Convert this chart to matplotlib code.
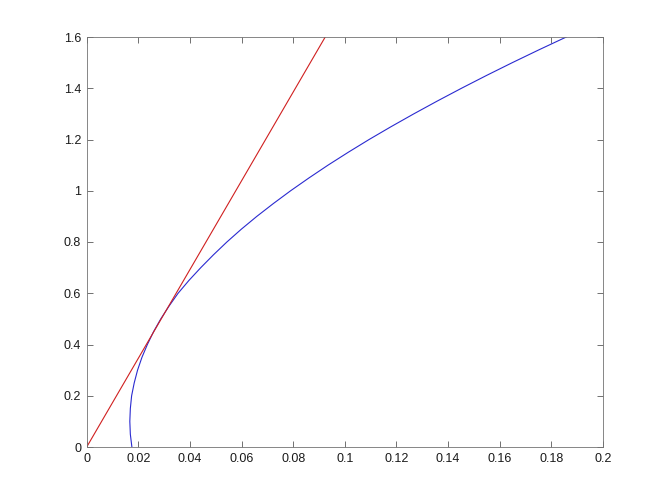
import matplotlib
matplotlib.use('Agg')
import matplotlib.pyplot as plt
from matplotlib.ticker import FormatStrFormatter

# blue curve (x as a function of y)
curve_y = [0.0, 0.05, 0.1, 0.15, 0.2, 0.25, 0.3, 0.35, 0.4, 0.45, 0.5,
           0.55, 0.6, 0.65, 0.7, 0.75, 0.8, 0.85, 0.9, 0.95, 1.0, 1.05,
           1.1, 1.15, 1.2, 1.25, 1.3, 1.35, 1.4, 1.45, 1.5, 1.55, 1.6]
curve_x = [0.0175, 0.0169, 0.0167, 0.0169, 0.0174, 0.0184, 0.0197, 0.0214,
           0.0235, 0.0259, 0.0287, 0.0319, 0.0354, 0.0396, 0.0442, 0.0491,
           0.0543, 0.0599, 0.0659, 0.0723, 0.0790, 0.0861, 0.0935, 0.1013,
           0.1094, 0.1179, 0.1267, 0.1358, 0.1452, 0.1549, 0.1649, 0.1752,
           0.1858]

# red straight line
line_x = [0.0, 0.0924]
line_y = [0.0, 1.6]

x_ticks = [0, 0.02, 0.04, 0.06, 0.08, 0.1, 0.12, 0.14, 0.16, 0.18, 0.2]
y_ticks = [0, 0.2, 0.4, 0.6, 0.8, 1, 1.2, 1.4, 1.6]

plt.rcParams['font.family'] = ['Liberation Sans', 'DejaVu Sans']

fig = plt.figure(figsize=(6.67, 5), dpi=100)
ax = fig.add_axes([0.13, 0.106, 0.774, 0.82])

ax.plot(curve_x, curve_y, color='#2a2ad0', lw=0.8)
ax.plot(line_x, line_y, color='#d02020', lw=0.8)

ax.set_xlim(0, 0.2)
ax.set_ylim(0, 1.6)
ax.set_xticks(x_ticks)
ax.set_yticks(y_ticks)
ax.xaxis.set_major_formatter(FormatStrFormatter('%g'))
ax.yaxis.set_major_formatter(FormatStrFormatter('%g'))

ax.tick_params(direction='in', length=4, width=0.6, colors='0.35',
               labelcolor='0.1', labelsize=9, top=True, right=True, pad=4)
for s in ax.spines.values():
    s.set_color('0.45')
    s.set_linewidth(0.6)

fig.savefig('out.png', dpi=100, facecolor='white')
